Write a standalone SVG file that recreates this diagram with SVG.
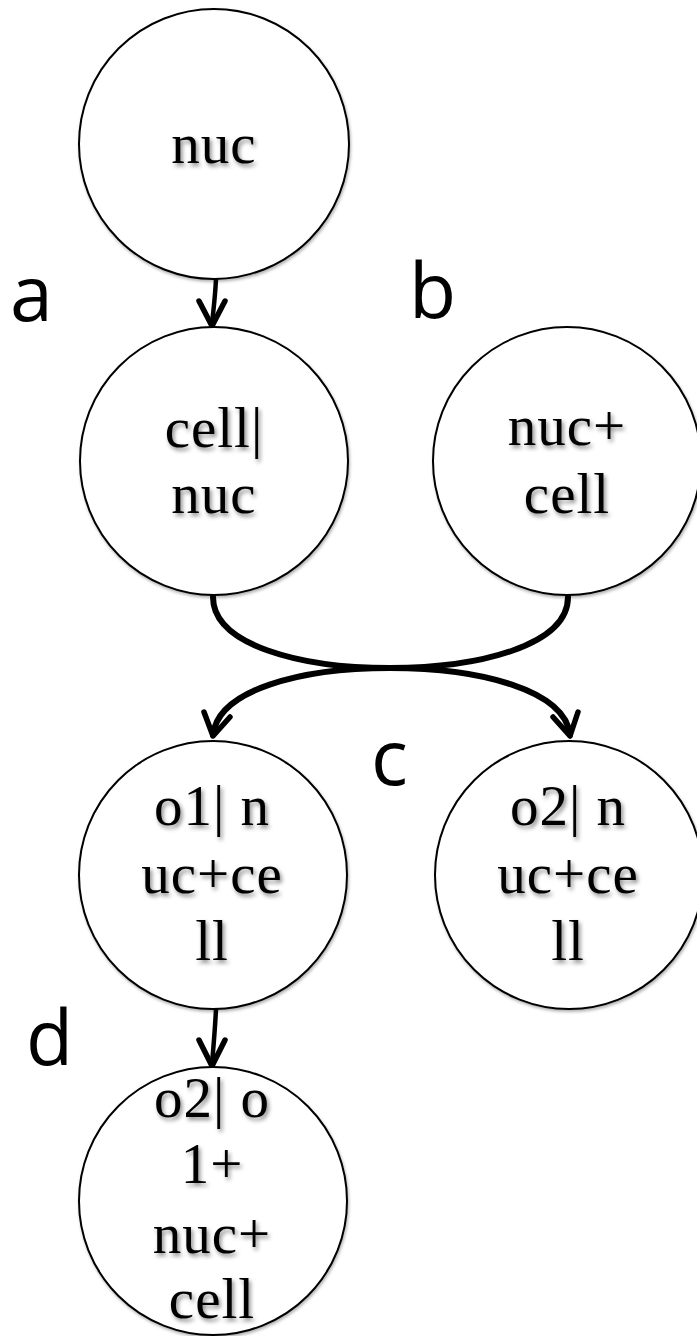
<svg xmlns="http://www.w3.org/2000/svg" width="697" height="1336" viewBox="0 0 697 1336">
<defs>
<style>
.node circle{fill:#fff;stroke:#000;stroke-width:2;filter:url(#sh)}
.node text{font-family:"Liberation Serif","Times New Roman",serif;font-size:57px;fill:#000;text-anchor:middle;letter-spacing:1px;filter:url(#tsh)}
.lbl{font-family:"Open Sans","Noto Sans",sans-serif;font-size:77px;fill:#000}
.conn path{fill:none;stroke:#000;stroke-linecap:round;stroke-linejoin:round}
.thin{stroke-width:4.5}
.thick{stroke-width:6}
.head{stroke-width:5.5}
</style>
<filter id="sh" x="-10%" y="-10%" width="120%" height="120%">
<feDropShadow dx="1" dy="2" stdDeviation="1.5" flood-color="#000" flood-opacity="0.3"/>
</filter>
<filter id="tsh" x="-20%" y="-20%" width="140%" height="150%">
<feDropShadow dx="2" dy="3" stdDeviation="2" flood-color="#000" flood-opacity="0.45"/>
</filter>
</defs>
<rect width="697" height="1336" fill="#fff"/>
<g id="connectors" class="conn">
<path class="thin" d="M216,279 C215,300 213,312 212,325"/>
<path class="head" d="M199,301 L212,326 L225,301"/>
<path class="thick" d="M213,597 C213,645 300,668 390,668"/>
<path class="thick" d="M568,597 C568,645 480,668 390,668"/>
<path class="thick" d="M390,668 C300,668 218,690 213,735"/>
<path class="head" d="M204,712 L213,736 L230,717"/>
<path class="thick" d="M390,668 C480,668 565,690 570,735"/>
<path class="head" d="M553,717 L570,736 L578,712"/>
<path class="thin" d="M216,1009 C215,1030 213,1052 212,1064"/>
<path class="head" d="M199,1040 L212,1066 L225,1040"/>
</g>
<g id="n1" class="node">
<circle cx="214" cy="144" r="135"/>
<text x="214" y="163">nuc</text>
</g>
<g id="n2" class="node">
<circle cx="214" cy="461" r="134"/>
<text x="214" y="447">cell|</text>
<text x="214" y="513">nuc</text>
</g>
<g id="n3" class="node">
<circle cx="567" cy="461" r="134"/>
<text x="567" y="445">nuc+</text>
<text x="567" y="513">cell</text>
</g>
<g id="n4" class="node">
<circle cx="213" cy="875" r="134"/>
<text x="212" y="825">o1| n</text>
<text x="212" y="893">uc+ce</text>
<text x="212" y="960">ll</text>
</g>
<g id="n5" class="node">
<circle cx="569" cy="875" r="134"/>
<text x="568" y="825">o2| n</text>
<text x="568" y="893">uc+ce</text>
<text x="568" y="960">ll</text>
</g>
<g id="n6" class="node">
<circle cx="213" cy="1201" r="134"/>
<text x="212" y="1117">o2| o</text>
<text x="212" y="1183">1+</text>
<text x="212" y="1253">nuc+</text>
<text x="212" y="1318">cell</text>
</g>
<g id="labels">
<text class="lbl" x="10" y="321">a</text>
<text class="lbl" x="409" y="318">b</text>
<text class="lbl" x="371" y="785">c</text>
<text class="lbl" x="26" y="1065">d</text>
</g>
</svg>
